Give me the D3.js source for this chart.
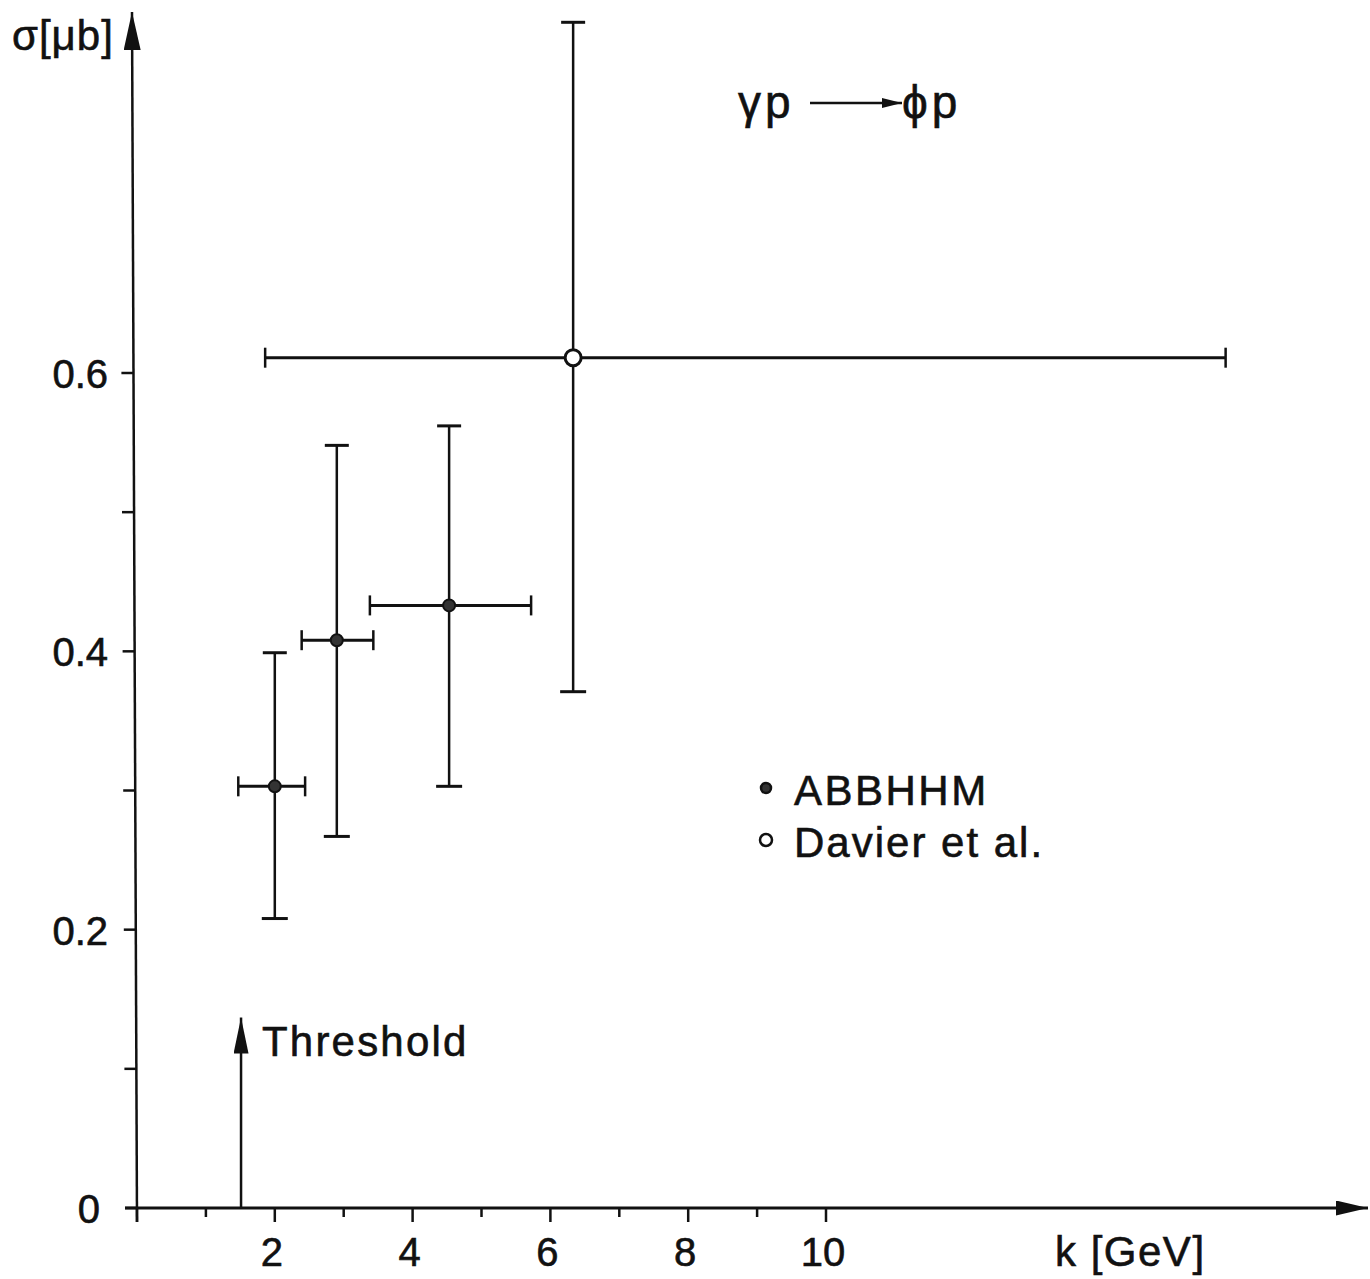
<!DOCTYPE html>
<html>
<head>
<meta charset="utf-8">
<script src="https://unpkg.com/d3@7/dist/d3.min.js"></script>
<style>
  body { margin: 0; background: #fff; }
  text { font-family: "Liberation Sans", Arial, sans-serif; fill: #111; stroke: #111; stroke-width: 0.6; }
</style>
</head>
<body>
<div id="chart"></div>
<script>
let w = 1370,
    h = 1279

// ABBHHM points (filled)
let abbK = [2.0, 2.9, 4.53]
let abbKLow = [1.47, 2.39, 3.38]
let abbKHigh = [2.44, 3.43, 5.72]
let abbSigma = [0.303, 0.408, 0.433]
let abbSigLow = [0.208, 0.267, 0.303]
let abbSigHigh = [0.399, 0.548, 0.562]

// Davier et al. (open)
let davK = [6.33]
let davKLow = [1.86]
let davKHigh = [15.8]
let davSigma = [0.611]
let davSigLow = [0.371]
let davSigHigh = [0.852]

let xTicks = [0, 1, 2, 3, 4, 5, 6, 7, 8, 9, 10]
let xTickLabels = ['', '', '2', '', '4', '', '6', '', '8', '', '10']
let yTicks = [0, 0.1, 0.2, 0.3, 0.4, 0.5, 0.6]
let yTickLabels = ['0', '', '0.2', '', '0.4', '', '0.6']
let thresholdK = 1.51
let thresholdTop = 0.134

let x = d3.scaleLinear().domain([0, 10]).range([137, 826])
let y = d3.scaleLinear().domain([0, 0.6]).range([1208, 373])

let svg = d3.select('#chart')
    .append('svg')
    .attr('width', w)
    .attr('height', h)

// arrowheads: long thin triangles
let addHead = (id, len, wid) => {
    defs.append('marker')
        .attr('id', id)
        .attr('viewBox', `0 0 ${len} ${wid}`)
        .attr('refX', len)
        .attr('refY', wid / 2)
        .attr('markerUnits', 'userSpaceOnUse')
        .attr('markerWidth', len)
        .attr('markerHeight', wid)
        .attr('orient', 'auto')
        .append('path')
        .attr('d', `M0,0 L${len},${wid / 2} L0,${wid} Z`)
        .attr('fill', '#111')
}
let defs = svg.append('defs')
addHead('yhead', 38, 17)
addHead('xhead', 32, 15)
addHead('thead', 36, 15)
addHead('smallhead', 20, 10)

// axes lines with arrows
svg.append('line')
    .attr('x1', 125).attr('y1', y(0))
    .attr('x2', 1368).attr('y2', y(0))
    .attr('stroke', '#111').attr('stroke-width', 3)
    .attr('marker-end', 'url(#xhead)')
svg.append('line')
    .attr('x1', x(0)).attr('y1', y(0) + 14)
    .attr('x2', x(0) - 5).attr('y2', 12)
    .attr('stroke', '#111').attr('stroke-width', 2.5)
    .attr('marker-end', 'url(#yhead)')

// x ticks
let xg = svg.append('g')
xg.selectAll('line')
    .data(xTicks)
    .enter()
    .append('line')
    .attr('x1', d => x(d)).attr('x2', d => x(d))
    .attr('y1', y(0))
    .attr('y2', d => y(0) + (d % 2 === 0 ? 14 : 9))
    .attr('stroke', '#111').attr('stroke-width', 2.5)
xg.selectAll('text')
    .data(xTicks)
    .enter()
    .append('text')
    .text((d, i) => xTickLabels[i])
    .attr('x', d => x(d) - 3)
    .attr('y', 1266)
    .attr('text-anchor', 'middle')
    .attr('font-size', 40)

// y ticks
let yg = svg.append('g')
yg.selectAll('line')
    .data(yTicks)
    .enter()
    .append('line')
    .attr('x1', d => x(0) - 12 - d * 6).attr('x2', d => x(0) - d * 6)
    .attr('y1', d => y(d)).attr('y2', d => y(d))
    .attr('stroke', '#111').attr('stroke-width', 2.5)
yg.selectAll('text')
    .data(yTicks)
    .enter()
    .append('text')
    .text((d, i) => yTickLabels[i])
    .attr('x', d => d === 0 ? 100 : 108)
    .attr('y', d => y(d) + 15)
    .attr('text-anchor', 'end')
    .attr('font-size', 40)

// axis titles
svg.append('text')
    .text('σ[μb]')
    .attr('x', 12).attr('y', 50)
    .attr('font-size', 42)
    .attr('letter-spacing', 1)
svg.append('text')
    .text('k [GeV]')
    .attr('x', 1055).attr('y', 1266)
    .attr('font-size', 42)
    .attr('letter-spacing', 1.5)

// reaction label
svg.append('text')
    .text('γp')
    .attr('x', 738).attr('y', 118)
    .attr('font-size', 46)
    .attr('letter-spacing', 4)
svg.append('line')
    .attr('x1', 810).attr('y1', 103)
    .attr('x2', 902).attr('y2', 103)
    .attr('stroke', '#111').attr('stroke-width', 2.5)
    .attr('marker-end', 'url(#smallhead)')
svg.append('text')
    .text('ϕp')
    .attr('x', 902).attr('y', 118)
    .attr('font-size', 46)
    .attr('letter-spacing', 4)

// threshold arrow
svg.append('line')
    .attr('x1', x(thresholdK)).attr('y1', y(0))
    .attr('x2', x(thresholdK)).attr('y2', y(thresholdTop) - 4)
    .attr('stroke', '#111').attr('stroke-width', 2.5)
    .attr('marker-end', 'url(#thead)')
svg.append('text')
    .text('Threshold')
    .attr('x', 262).attr('y', 1056)
    .attr('font-size', 42)
    .attr('letter-spacing', 2.2)

// error bars
let drawSeries = (k, kLo, kHi, s, sLo, sHi, open) => {
    let g = svg.append('g')
    let idx = d3.range(k.length)
    g.selectAll('.v')
        .data(idx).enter().append('line')
        .attr('x1', i => x(k[i])).attr('x2', i => x(k[i]))
        .attr('y1', i => y(sLo[i])).attr('y2', i => y(sHi[i]))
        .attr('stroke', '#111').attr('stroke-width', 2.5)
    g.selectAll('.h')
        .data(idx).enter().append('line')
        .attr('x1', i => x(kLo[i])).attr('x2', i => x(kHi[i]))
        .attr('y1', i => y(s[i])).attr('y2', i => y(s[i]))
        .attr('stroke', '#111').attr('stroke-width', 3)
    // caps on sigma range
    g.selectAll('.ct')
        .data(idx).enter().append('line')
        .attr('x1', i => x(k[i]) - 12).attr('x2', i => x(k[i]) + 12)
        .attr('y1', i => y(sHi[i])).attr('y2', i => y(sHi[i]))
        .attr('stroke', '#111').attr('stroke-width', 3)
    g.selectAll('.cb')
        .data(idx).enter().append('line')
        .attr('x1', i => x(k[i]) - 13).attr('x2', i => x(k[i]) + 13)
        .attr('y1', i => y(sLo[i])).attr('y2', i => y(sLo[i]))
        .attr('stroke', '#111').attr('stroke-width', 3)
    // caps on k range
    g.selectAll('.cl')
        .data(idx).enter().append('line')
        .attr('x1', i => x(kLo[i])).attr('x2', i => x(kLo[i]))
        .attr('y1', i => y(s[i]) - 10).attr('y2', i => y(s[i]) + 10)
        .attr('stroke', '#111').attr('stroke-width', 2.5)
    g.selectAll('.cr')
        .data(idx).enter().append('line')
        .attr('x1', i => x(kHi[i])).attr('x2', i => x(kHi[i]))
        .attr('y1', i => y(s[i]) - 10).attr('y2', i => y(s[i]) + 10)
        .attr('stroke', '#111').attr('stroke-width', 2.5)
    g.selectAll('circle')
        .data(idx).enter().append('circle')
        .attr('cx', i => x(k[i]))
        .attr('cy', i => y(s[i]))
        .attr('r', open ? 8 : 6)
        .attr('fill', open ? '#fff' : '#333')
        .attr('stroke', '#111')
        .attr('stroke-width', open ? 3 : 2)
}
drawSeries(abbK, abbKLow, abbKHigh, abbSigma, abbSigLow, abbSigHigh, false)
drawSeries(davK, davKLow, davKHigh, davSigma, davSigLow, davSigHigh, true)

// legend
let legend = [
    { name: 'ABBHHM', open: false },
    { name: 'Davier et al.', open: true }
]
let lg = svg.append('g')
lg.selectAll('circle')
    .data(legend).enter().append('circle')
    .attr('cx', 766)
    .attr('cy', (d, i) => 788 + i * 52)
    .attr('r', d => d.open ? 6 : 5)
    .attr('fill', d => d.open ? '#fff' : '#333')
    .attr('stroke', '#111')
    .attr('stroke-width', 2.5)
lg.selectAll('text')
    .data(legend).enter().append('text')
    .text(d => d.name)
    .attr('x', 794)
    .attr('y', (d, i) => 805 + i * 52)
    .attr('font-size', 42)
    .attr('letter-spacing', (d, i) => i === 0 ? 2.5 : 2)
</script>
</body>
</html>
